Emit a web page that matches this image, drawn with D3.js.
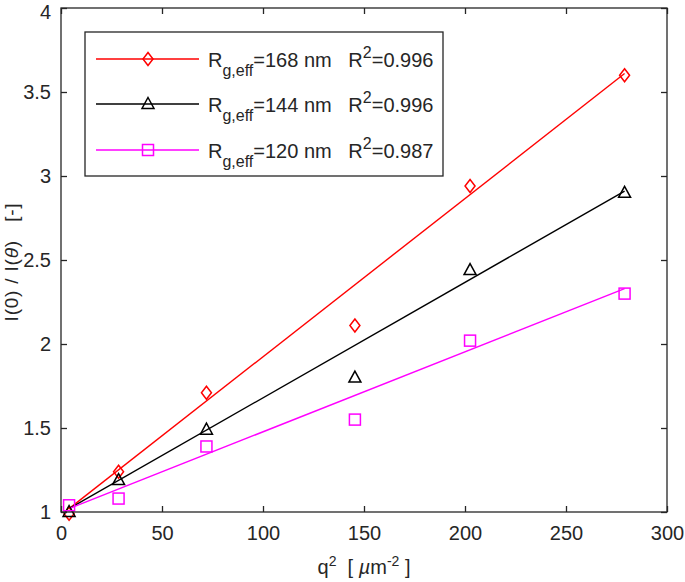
<!DOCTYPE html>
<html><head><meta charset="utf-8">
<script src="https://cdn.jsdelivr.net/npm/d3@7"></script>
<style>body{margin:0;background:#fff}svg{display:block}text{font-family:"Liberation Sans",Arial,sans-serif;fill:#262626}</style>
</head><body><svg id="c" width="685" height="582"></svg>
<script>
const q2 = [4, 28.5, 72, 145.5, 202.5, 279];
const red = [0.99, 1.24, 1.71, 2.11, 2.94, 3.60];
const black = [1.0, 1.19, 1.49, 1.80, 2.44, 2.90];
const magenta = [1.04, 1.08, 1.39, 1.55, 2.02, 2.30];
const fitX = [4, 279];
const fitRed = [1.02, 3.61];
const fitBlack = [1.02, 2.91];
const fitMagenta = [1.02, 2.33];
const xTicks = [0, 50, 100, 150, 200, 250, 300];
const yTicks = [1, 1.5, 2, 2.5, 3, 3.5, 4];
const legendRg = ["168", "144", "120"];
const legendR2 = ["0.996", "0.996", "0.987"];

const svg = d3.select("#c");
const L=61, R=667, T=8, B=512;
const x = d3.scaleLinear().domain([0,300]).range([L,R]);
const y = d3.scaleLinear().domain([1,4]).range([B,T]);
const ax = "#262626";

const series = [
  {c:"#ff0000", d:red, f:fitRed, m:"diamond"},
  {c:"#000000", d:black, f:fitBlack, m:"triangle"},
  {c:"#ff00ff", d:magenta, f:fitMagenta, m:"square"}
];
function marker(g, type, cx, cy, col){
  if(type==="diamond"){
    g.append("path").attr("d",`M${cx},${cy-6.5}L${cx+5},${cy}L${cx},${cy+6.5}L${cx-5},${cy}Z`)
     .attr("fill","none").attr("stroke",col).attr("stroke-width",1.5);
  } else if(type==="triangle"){
    g.append("path").attr("d",`M${cx},${cy-6.5}L${cx+6},${cy+4.5}L${cx-6},${cy+4.5}Z`)
     .attr("fill","none").attr("stroke",col).attr("stroke-width",1.5);
  } else {
    g.append("rect").attr("x",cx-5.5).attr("y",cy-5.5).attr("width",11).attr("height",11)
     .attr("fill","none").attr("stroke",col).attr("stroke-width",1.5);
  }
}
const plot = svg.append("g");
series.forEach(s=>{
  plot.append("line").attr("x1",x(fitX[0])).attr("y1",y(s.f[0])).attr("x2",x(fitX[1])).attr("y2",y(s.f[1]))
    .attr("stroke",s.c).attr("stroke-width",1.4);
});
series.forEach(s=>{
  s.d.forEach((v,i)=>marker(plot,s.m,x(q2[i]),y(v),s.c));
});

// axes
const gx = svg.append("g").attr("transform",`translate(0,${B})`).call(d3.axisBottom(x).tickValues(xTicks).tickSize(-6).tickPadding(14).tickFormat(d3.format("d")));
const gy = svg.append("g").attr("transform",`translate(${L},0)`).call(d3.axisLeft(y).tickValues(yTicks).tickSize(-6).tickPadding(10).tickFormat(d=>d3.format("")(d)));
const gt = svg.append("g").attr("transform",`translate(0,${T})`).call(d3.axisTop(x).tickValues(xTicks).tickSize(-6).tickFormat(""));
const gr = svg.append("g").attr("transform",`translate(${R},0)`).call(d3.axisRight(y).tickValues(yTicks).tickSize(-6).tickFormat(""));
[gx,gy,gt,gr].forEach(g=>{
  g.select(".domain").attr("stroke",ax).attr("stroke-width",1.3).attr("d", null);
  g.selectAll(".tick line").attr("stroke",ax).attr("stroke-width",1.3);
  g.selectAll("text").attr("font-size",20).attr("fill","#000").style("font-family","Liberation Sans, Arial, sans-serif");
});
svg.append("rect").attr("x",L).attr("y",T).attr("width",R-L).attr("height",B-T).attr("fill","none").attr("stroke",ax).attr("stroke-width",1.3);
gx.selectAll("text").attr("dy","0.71em");
gy.selectAll("text").filter(d=>d===4).attr("dy","0.54em");

// axis labels
const xl = svg.append("text").attr("x",(L+R)/2).attr("y",574).attr("text-anchor","middle").attr("font-size",20).attr("fill","#000").style("white-space","pre");
xl.append("tspan").text("q");
xl.append("tspan").attr("dy",-8).attr("font-size",14).text("2");
xl.append("tspan").attr("dy",8).text("  [ ");
xl.append("tspan").attr("font-style","italic").text("µ");
xl.append("tspan").text("m");
xl.append("tspan").attr("dy",-8).attr("font-size",14).text("-2");
xl.append("tspan").attr("dy",8).text(" ]");

const yl = svg.append("text").attr("transform",`translate(18,${(T+B)/2+2}) rotate(-90)`).attr("text-anchor","middle").attr("font-size",19).attr("fill","#000").attr("letter-spacing",0.8).style("white-space","pre");
yl.append("tspan").text("I(0) / I(");
yl.append("tspan").attr("font-style","italic").text("θ");
yl.append("tspan").text(")   [-]");

// legend
const lg = svg.append("g");
lg.append("rect").attr("x",85).attr("y",32).attr("width",358).attr("height",144).attr("fill","#fff").attr("stroke",ax).attr("stroke-width",1.3);
const rows=[59,104,150];
series.forEach((s,i)=>{
  lg.append("line").attr("x1",96).attr("x2",199).attr("y1",rows[i]).attr("y2",rows[i]).attr("stroke",s.c).attr("stroke-width",1.4);
  marker(lg,s.m,148,rows[i],s.c);
  const t = lg.append("text").attr("x",208).attr("y",rows[i]+8).attr("font-size",20).attr("fill","#000").style("white-space","pre");
  t.append("tspan").text("R");
  t.append("tspan").attr("dy",9).attr("font-size",16).text("g,eff");
  t.append("tspan").attr("dy",-9).text(`=${legendRg[i]} nm   R`);
  t.append("tspan").attr("dy",-9).attr("font-size",16).text("2");
  t.append("tspan").attr("dy",9).text(`=${legendR2[i]}`);
});
</script></body></html>
